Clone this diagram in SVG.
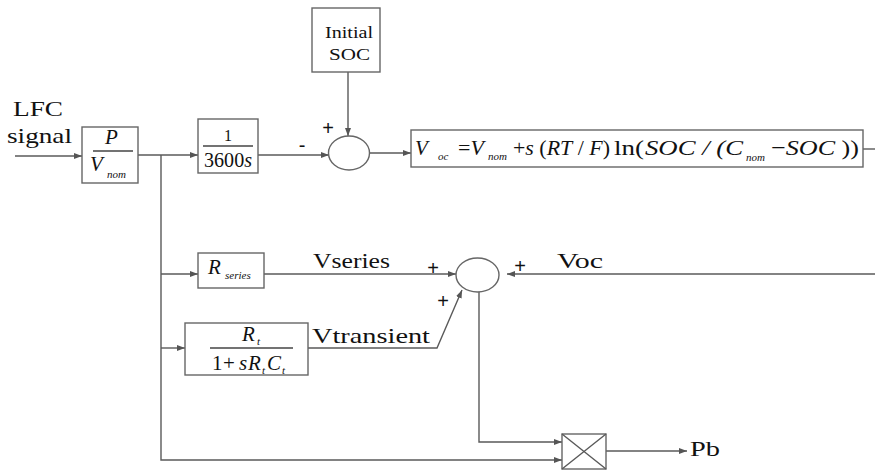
<svg xmlns="http://www.w3.org/2000/svg" width="875" height="470" viewBox="0 0 875 470" font-family="'Liberation Serif', 'DejaVu Serif', serif">
<style>
.box{fill:#fff;stroke:#666;stroke-width:1.4}
.sum{fill:#fff;stroke:#666;stroke-width:1.4}
.ln{fill:none;stroke:#5a5a5a;stroke-width:1.4}
.fr{stroke:#444;stroke-width:1.3}
text{font-family:'Liberation Serif','DejaVu Serif',serif;fill:#111}
.lbl{font-size:22px}
.m{font-style:italic;font-size:21px}
.sub{font-style:italic;font-size:11px}
.sg{font-size:20px;font-family:'Liberation Sans',Arial,sans-serif;text-anchor:middle}
</style>
<defs>
<marker id="ar" markerUnits="userSpaceOnUse" markerWidth="8" markerHeight="6" refX="8" refY="3" orient="auto">
<path d="M0,0 L8,3 L0,6 z" fill="#555"/>
</marker>
</defs>
<rect width="875" height="470" fill="#fff"/>

<g id="connectors">
<path class="ln" d="M15,156 H82" marker-end="url(#ar)"/>
<path class="ln" d="M138,155 H198" marker-end="url(#ar)"/>
<path class="ln" d="M258,155 H329" marker-end="url(#ar)"/>
<path class="ln" d="M348,72 V136" marker-end="url(#ar)"/>
<path class="ln" d="M370,153 H411" marker-end="url(#ar)"/>
<path class="ln" d="M863,149 H875"/>
<path class="ln" d="M875,274 H507" marker-end="url(#ar)"/>
<path class="ln" d="M161,155 V460 H562" marker-end="url(#ar)"/>
<path class="ln" d="M161,274 H198" marker-end="url(#ar)"/>
<path class="ln" d="M161,348 H185" marker-end="url(#ar)"/>
<path class="ln" d="M264,274 H456" marker-end="url(#ar)"/>
<path class="ln" d="M308,348 H437 L462,290" marker-end="url(#ar)"/>
<path class="ln" d="M479,292 V442 H562" marker-end="url(#ar)"/>
<path class="ln" d="M606,451 H687" marker-end="url(#ar)"/>
</g>

<g id="lfc_label">
<text class="lbl" x="13" y="116" textLength="50" lengthAdjust="spacingAndGlyphs">LFC</text>
<text class="lbl" x="7" y="143" textLength="65" lengthAdjust="spacingAndGlyphs">signal</text>
</g>

<g id="p_vnom">
<rect class="box" x="82" y="127" width="56" height="56"/>
<line class="fr" x1="93" y1="151" x2="133" y2="151"/>
<text class="m" x="105" y="144">P</text>
<text class="m" x="90" y="171">V</text>
<text class="sub" x="107" y="178">nom</text>
</g>

<g id="integrator">
<rect class="box" x="198" y="119" width="60" height="54"/>
<line class="fr" x1="203" y1="146" x2="253" y2="146"/>
<text x="228" y="141" font-size="16" text-anchor="middle">1</text>
<text x="204" y="167" font-size="20" textLength="48" lengthAdjust="spacingAndGlyphs">3600<tspan font-style="italic">s</tspan></text>
</g>

<g id="initial_soc">
<rect class="box" x="312" y="8" width="68" height="64"/>
<text x="325" y="38" font-size="17" textLength="48" lengthAdjust="spacingAndGlyphs">Initial</text>
<text x="329" y="60" font-size="17" textLength="41" lengthAdjust="spacingAndGlyphs">SOC</text>
</g>

<g id="sum1">
<ellipse class="sum" cx="349" cy="153" rx="20.5" ry="17"/>
<text class="sg" x="328" y="135">+</text>
<text class="sg" x="302" y="152">-</text>
</g>

<g id="voc_eq">
<rect class="box" x="411" y="130" width="452" height="37"/>
<text class="m" x="415" y="155" font-size="22">V</text>
<text class="sub" x="438" y="160">oc</text>
<text x="458" y="155" font-size="22">=<tspan font-style="italic">V</tspan></text>
<text class="sub" x="488" y="160">nom</text>
<text x="513" y="155" font-size="22" textLength="97" lengthAdjust="spacingAndGlyphs">+<tspan font-style="italic">s</tspan> (<tspan font-style="italic">RT</tspan> / <tspan font-style="italic">F</tspan>)</text>
<text x="614" y="155" font-size="22" textLength="30" lengthAdjust="spacingAndGlyphs">ln(</text>
<text x="645" y="155" font-size="22" font-style="italic" textLength="98" lengthAdjust="spacingAndGlyphs">SOC / (C</text>
<text class="sub" x="746" y="161">nom</text>
<text x="771" y="155" font-size="22" textLength="88" lengthAdjust="spacingAndGlyphs">−<tspan font-style="italic">SOC</tspan> ))</text>
</g>

<g id="r_series">
<rect class="box" x="198" y="253" width="66" height="35"/>
<text class="m" x="208" y="274">R</text>
<text class="sub" x="225" y="279" font-size="10">series</text>
</g>

<g id="r_transient">
<rect class="box" x="185" y="323" width="123" height="52"/>
<line class="fr" x1="210" y1="348" x2="293" y2="348"/>
<text class="m" x="242" y="341">R</text>
<text class="sub" x="257" y="345">t</text>
<text x="212" y="370" font-size="21">1</text>
<text x="223" y="370" font-size="21">+</text>
<text class="m" x="239" y="370">s</text>
<text class="m" x="248" y="370">R</text>
<text class="sub" x="262" y="374">t</text>
<text class="m" x="267" y="370">C</text>
<text class="sub" x="282" y="374">t</text>
</g>

<g id="sum2">
<ellipse class="sum" cx="477.5" cy="275" rx="21.5" ry="17"/>
<text class="sg" x="433" y="275">+</text>
<text class="sg" x="520" y="273">+</text>
<text class="sg" x="443" y="308">+</text>
</g>

<g id="signal_labels">
<text class="lbl" x="313" y="268" textLength="77" lengthAdjust="spacingAndGlyphs">Vseries</text>
<text class="lbl" x="312" y="343" textLength="118" lengthAdjust="spacingAndGlyphs">Vtransient</text>
<text class="lbl" x="557" y="268" textLength="46" lengthAdjust="spacingAndGlyphs">Voc</text>
</g>

<g id="multiplier">
<rect class="box" x="562" y="434" width="44" height="35"/>
<path class="ln" d="M562,434 L606,469 M606,434 L562,469"/>
</g>

<g id="pb_label">
<text class="lbl" x="690" y="456" textLength="30" lengthAdjust="spacingAndGlyphs">Pb</text>
</g>
</svg>
